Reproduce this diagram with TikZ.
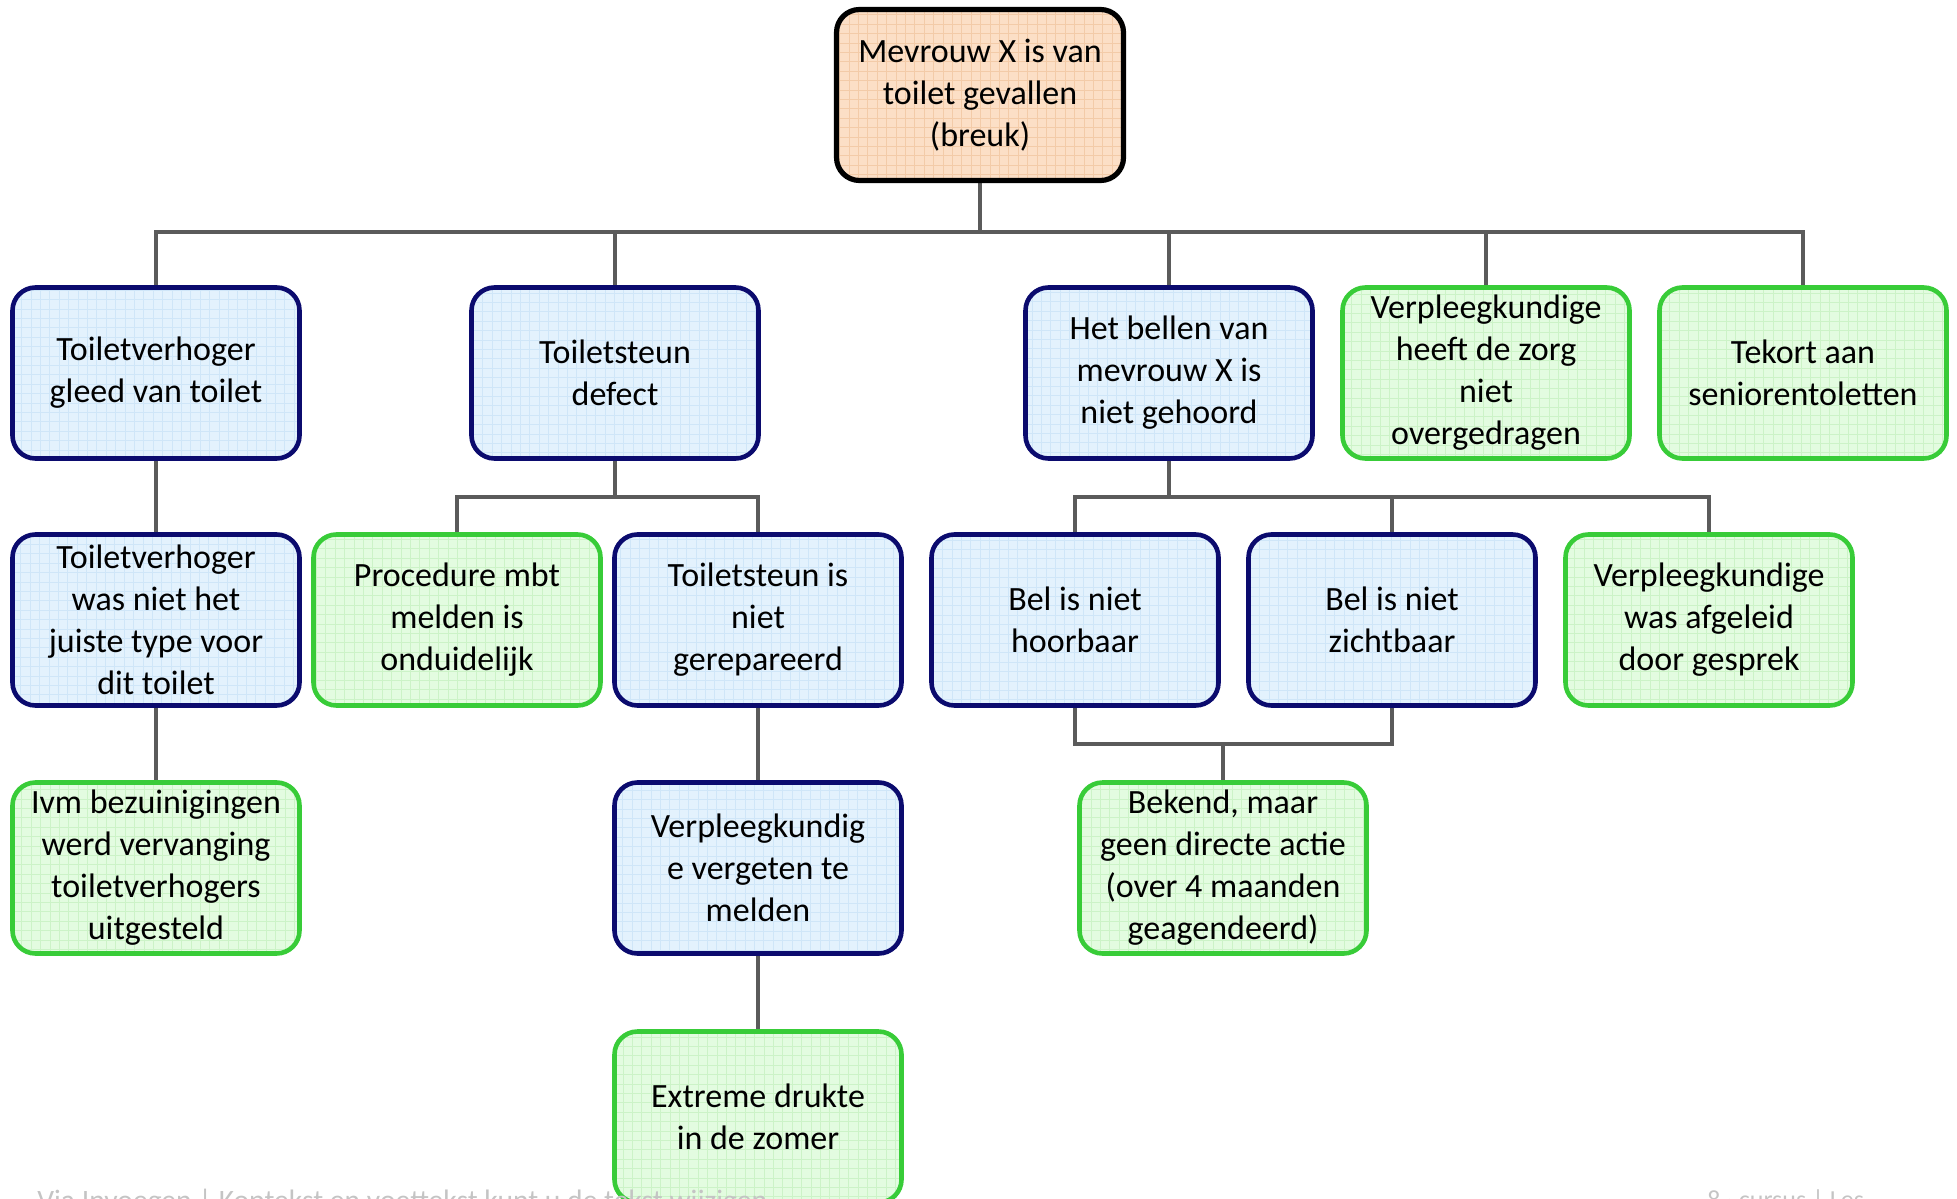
\documentclass[tikz,border=0pt]{standalone}
\usepackage{fontspec}
\setmainfont{Carlito}
\usetikzlibrary{backgrounds}
\definecolor{navyc}{HTML}{0B0B6E}
\definecolor{bluef}{HTML}{E3F2FD}
\definecolor{blueg}{HTML}{CFE6F8}
\definecolor{greenc}{HTML}{38CC38}
\definecolor{greenf}{HTML}{E3FCE0}
\definecolor{greeng}{HTML}{CCF3C7}
\definecolor{orangef}{HTML}{FCDFC6}
\definecolor{orangeg}{HTML}{F3CBA8}
\definecolor{connc}{HTML}{5B5B5B}
\definecolor{footc}{HTML}{C4C4C4}
\tikzset{
  box/.style={rounded corners=11.5pt, line width=2.3pt, minimum width=143.5pt,
    minimum height=85.5pt, inner sep=0pt, align=center,
    font=\fontsize{17}{21}\selectfont},
  gridfill/.style={path picture={\draw[#1, line width=0.3pt]
    (path picture bounding box.south west) grid[step=4.7pt]
    (path picture bounding box.north east);}},
  bluebox/.style={box, draw=navyc, fill=bluef, gridfill=blueg},
  greenbox/.style={box, draw=greenc, fill=greenf, gridfill=greeng},
  rootbox/.style={box, draw=black, fill=orangef, gridfill=orangeg, line width=2.6pt},
  conn/.style={draw=connc, line width=2.4pt},
  foot/.style={anchor=base west, inner sep=0pt, text=footc}
}
\begin{document}
\begin{tikzpicture}[x=0.5pt, y=-0.5pt]
\useasboundingbox (0,0) rectangle (1957,1198);
\clip (0,0) rectangle (1957,1198);

% nodes
\node[rootbox] (root) at (980,95) {Mevrouw X is van\\toilet gevallen\\(breuk)};

\node[bluebox] (A) at (156,373) {Toiletverhoger\\gleed van toilet};
\node[bluebox] (B) at (615,373) {Toiletsteun\\defect};
\node[bluebox] (C) at (1169,373) {Het bellen van\\mevrouw X is\\niet gehoord};
\node[greenbox] (D) at (1486,373) {Verpleegkundige\\heeft de zorg\\niet\\overgedragen};
\node[greenbox] (E) at (1803,373) {Tekort aan\\seniorentoletten};

\node[bluebox] (A2) at (156,620) {Toiletverhoger\\was niet het\\juiste type voor\\dit toilet};
\node[greenbox] (B1) at (457,620) {Procedure mbt\\melden is\\onduidelijk};
\node[bluebox] (B2) at (758,620) {Toiletsteun is\\niet\\gerepareerd};
\node[bluebox] (C1) at (1075,620) {Bel is niet\\hoorbaar};
\node[bluebox] (C2) at (1392,620) {Bel is niet\\zichtbaar};
\node[greenbox] (C3) at (1709,620) {Verpleegkundige\\was afgeleid\\door gesprek};

\node[greenbox] (A3) at (156,868) {Ivm bezuinigingen\\werd vervanging\\toiletverhogers\\uitgesteld};
\node[bluebox] (B3) at (758,868) {Verpleegkundig\\e vergeten te\\melden};
\node[greenbox] (C4) at (1223,868) {Bekend, maar\\geen directe actie\\(over 4 maanden\\geagendeerd)};

\node[greenbox] (B4) at (758,1117) {Extreme drukte\\in de zomer};

% bus coordinates
\coordinate (bus0) at (0,232);
\coordinate (busB) at (0,497);
\coordinate (busC) at (0,497);
\coordinate (busM) at (0,744);

\begin{pgfonlayer}{background}
  \foreach \n in {A,B,C,D,E}
    \draw[conn] (root.south) -- (root.south |- bus0) -| (\n.north);
  \draw[conn] (A.south) -- (A2.north);
  \draw[conn] (A2.south) -- (A3.north);
  \foreach \n in {B1,B2}
    \draw[conn] (B.south) -- (B.south |- busB) -| (\n.north);
  \foreach \n in {C1,C2,C3}
    \draw[conn] (C.south) -- (C.south |- busC) -| (\n.north);
  \foreach \n in {C1,C2}
    \draw[conn] (\n.south) -- (\n.south |- busM) -| (C4.north);
  \draw[conn] (B2.south) -- (B3.north);
  \draw[conn] (B3.south) -- (B4.north);
\end{pgfonlayer}

% footer (cut off at the bottom edge, as in the reference)
\node[foot, font=\fontsize{14.8}{17}\selectfont] (f1) at (37,1210) {Via Invoegen | Koptekst en voettekst kunt u de tekst wijzigen};
\node[foot, font=\fontsize{13}{15}\selectfont] (f2) at (1707,1208) {8 · cursus | Les};
\end{tikzpicture}
\end{document}
